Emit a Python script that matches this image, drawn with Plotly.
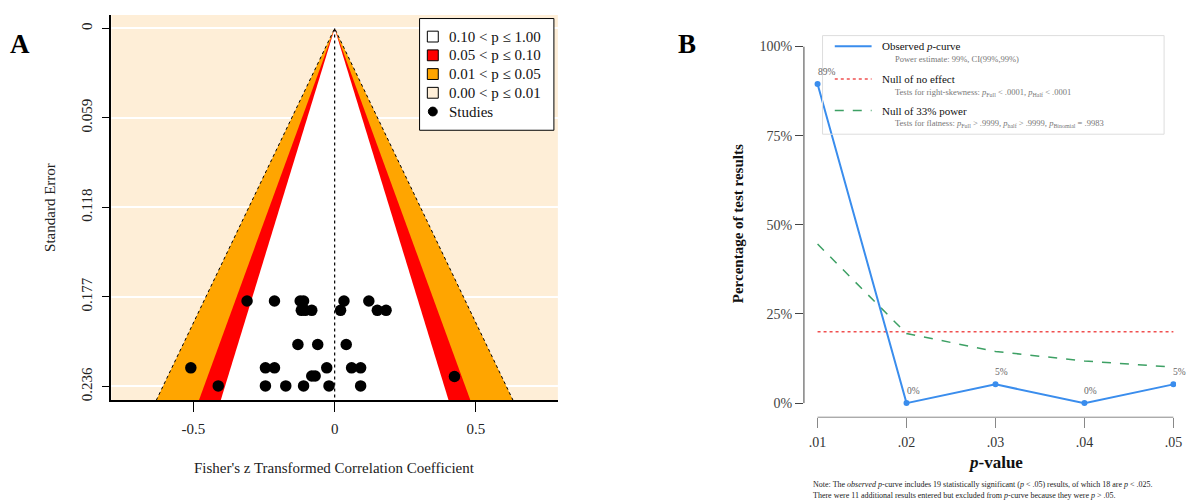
import plotly.graph_objects as go

W, H = 1191, 503
FONT = "Liberation Serif"

# ---------------- Panel A data ----------------
study_z = [-0.310, -0.213, -0.122, -0.110, 0.033, 0.121,
           -0.118, -0.104, -0.081, 0.021, 0.151, 0.182,
           -0.130, -0.060, 0.041,
           -0.509, -0.245, -0.213, -0.028, 0.060, 0.092,
           -0.081, -0.069, 0.424,
           -0.412, -0.245, -0.173, -0.110, -0.020, 0.092]
study_se = [0.1797, 0.1797, 0.1797, 0.1797, 0.1797, 0.1797,
            0.1858, 0.1858, 0.1858, 0.1858, 0.1858, 0.1858,
            0.2083, 0.2083, 0.2083,
            0.2237, 0.2237, 0.2237, 0.2237, 0.2237, 0.2237,
            0.2291, 0.2291, 0.2294,
            0.2356, 0.2356, 0.2356, 0.2356, 0.2356, 0.2356]
se_ticks = [0, 0.059, 0.118, 0.177, 0.236]
se_tick_labels = ["0", "0.059", "0.118", "0.177", "0.236"]
z_ticks = [-0.5, 0, 0.5]
z_tick_labels = ["-0.5", "0", "0.5"]
contour_crit = [2.576, 1.96, 1.645]          # p = .01, .05, .10
contour_colors = ["#FFA500", "#FF0000", "#FFFFFF"]
bg_beige = "#FEEED7"
se_max = 0.27
legendA_labels = ["0.10 < p \u2264 1.00", "0.05 < p \u2264 0.10",
                  "0.01 < p \u2264 0.05", "0.00 < p \u2264 0.01", "Studies"]
legendA_colors = ["#FFFFFF", "#FF0000", "#FFA500", bg_beige]

# ---------------- Panel B data ----------------
p_bins = [0.01, 0.02, 0.03, 0.04, 0.05]
p_tick_labels = [".01", ".02", ".03", ".04", ".05"]
observed = [89.47, 0, 5.26, 0, 5.26]
null_effect = [20, 20, 20, 20, 20]
null_33 = [44.6, 19.5, 14.5, 11.8, 10.1]
pct_ticks = [0, 25, 50, 75, 100]
pct_labels = ["0%", "25%", "50%", "75%", "100%"]

BLUE = "#3A8DED"
RED = "#F05050"
GREEN = "#3DA064"


def PX(x):
    return x / W


def PY(y):
    return 1 - y / H


fig = go.Figure()

# contour regions (A)
for c, col in zip(contour_crit, contour_colors):
    fig.add_trace(go.Scatter(
        x=[0, -c * se_max, c * se_max, 0], y=[0, se_max, se_max, 0],
        fill="toself", fillcolor=col, mode="lines", line=dict(width=0),
        hoverinfo="skip", showlegend=False, xaxis="x", yaxis="y"))
# dotted outer edge
c0 = contour_crit[0]
fig.add_trace(go.Scatter(
    x=[-c0 * se_max, 0, c0 * se_max], y=[se_max, 0, se_max], mode="lines",
    line=dict(color="black", width=1, dash="dot"), showlegend=False,
    hoverinfo="skip", xaxis="x", yaxis="y"))
# reference line at 0
fig.add_trace(go.Scatter(
    x=[0, 0], y=[0, se_max], mode="lines",
    line=dict(color="black", width=1.2, dash="dot"), showlegend=False,
    hoverinfo="skip", xaxis="x", yaxis="y"))
# studies
fig.add_trace(go.Scatter(
    x=study_z, y=study_se, mode="markers",
    marker=dict(color="black", size=11.5), showlegend=False,
    xaxis="x", yaxis="y"))

# ---------------- Panel B traces ----------------
fig.add_trace(go.Scatter(
    x=p_bins, y=null_effect, mode="lines",
    line=dict(color=RED, width=1.5, dash="dot"), showlegend=False,
    xaxis="x2", yaxis="y2"))
fig.add_trace(go.Scatter(
    x=p_bins, y=null_33, mode="lines",
    line=dict(color=GREEN, width=1.5, dash="dash"), showlegend=False,
    xaxis="x2", yaxis="y2"))
fig.add_trace(go.Scatter(
    x=p_bins, y=observed, mode="lines+markers",
    line=dict(color=BLUE, width=2), marker=dict(color=BLUE, size=6),
    showlegend=False, xaxis="x2", yaxis="y2"))

shapes = []
annotations = []

# beige background in A
shapes.append(dict(type="rect", xref="x domain", yref="y domain", x0=0, x1=1,
                   y0=0, y1=1, fillcolor=bg_beige, line=dict(width=0),
                   layer="below"))

# data labels B
for xv, yv in zip(p_bins, observed):
    annotations.append(dict(x=xv, y=yv, xref="x2", yref="y2",
                            text=f"{round(yv)}%", showarrow=False,
                            xanchor="left", yanchor="middle", xshift=-2, yshift=12,
                            font=dict(family=FONT, size=9.5, color="#666")))

# R-style axes for B
shapes.append(dict(type="line", xref="x2 domain", yref="y2", x0=0, x1=0,
                   y0=0, y1=100, line=dict(color="#444", width=1)))
shapes.append(dict(type="line", xref="x2", yref="y2 domain", x0=p_bins[0],
                   x1=p_bins[-1], y0=0, y1=0, line=dict(color="#888", width=1)))

# ---- legend A ----
lx0, lx1, ly0, ly1 = 421.7, 556.7, 11.7, 125
shapes.append(dict(type="rect", xref="paper", yref="paper",
                   x0=PX(lx0), x1=PX(lx1), y0=PY(ly1), y1=PY(ly0),
                   fillcolor="white", line=dict(color="black", width=1)))
rows = [30, 49, 68, 87, 106]
sx, half = 435, 5.5
for i, lab in enumerate(legendA_labels):
    yy = rows[i]
    if i < 4:
        shapes.append(dict(type="rect", xref="paper", yref="paper",
                           x0=PX(sx - half), x1=PX(sx + half),
                           y0=PY(yy + half), y1=PY(yy - half),
                           fillcolor=legendA_colors[i],
                           line=dict(color="black", width=1)))
    else:
        shapes.append(dict(type="circle", xref="paper", yref="paper",
                           x0=PX(sx - 4.5), x1=PX(sx + 4.5),
                           y0=PY(yy + 4.5), y1=PY(yy - 4.5),
                           fillcolor="black", line=dict(color="black", width=1)))
    annotations.append(dict(x=PX(449), y=PY(yy), xref="paper", yref="paper",
                            text=lab, showarrow=False, xanchor="left",
                            yanchor="middle",
                            font=dict(family=FONT, size=15, color="#111")))

# ---- legend B ----
shapes.append(dict(type="rect", xref="paper", yref="paper",
                   x0=PX(826.7), x1=PX(1170), y0=PY(129), y1=PY(29),
                   fillcolor="rgba(255,255,255,0)", line=dict(color="#DDD", width=1)))
legB = [
    (39.7, BLUE, "solid", "Observed <i>p</i>-curve",
     "Power estimate: 99%, CI(99%,99%)"),
    (73, RED, "dot", "Null of no effect",
     "Tests for right-skewness: <i>p</i><sub>Full</sub> < .0001, <i>p</i><sub>Half</sub> < .0001"),
    (105, GREEN, "dash", "Null of 33% power",
     "Tests for flatness: <i>p</i><sub>Full</sub> > .9999, <i>p</i><sub>half</sub> > .9999, <i>p</i><sub>Binomial</sub> = .9983"),
]
for yy, col, dash, main, sub in legB:
    shapes.append(dict(type="line", xref="paper", yref="paper",
                       x0=PX(839), x1=PX(876), y0=PY(yy), y1=PY(yy),
                       line=dict(color=col, width=2 if dash == "solid" else 1.5,
                                 dash=dash)))
    annotations.append(dict(x=PX(884), y=PY(yy), xref="paper", yref="paper",
                            text=main, showarrow=False, xanchor="left",
                            yanchor="middle",
                            font=dict(family=FONT, size=11, color="#111")))
    annotations.append(dict(x=PX(898), y=PY(yy + 13.5), xref="paper", yref="paper",
                            text=sub, showarrow=False, xanchor="left",
                            yanchor="middle",
                            font=dict(family=FONT, size=8.5, color="#777")))


def ann(x, y, text, size, color="#222", angle=0, xanchor="center"):
    return dict(x=PX(x), y=PY(y), xref="paper", yref="paper", text=text,
                showarrow=False, xanchor=xanchor, yanchor="middle",
                textangle=angle, font=dict(family=FONT, size=size, color=color))


annotations += [
    ann(20, 38, "<b>A</b>", 27, "black"),
    ann(690, 38, "<b>B</b>", 27, "black"),
    ann(336, 467, "Fisher's z Transformed Correlation Coefficient", 15),
    ann(50, 203, "Standard Error", 15, angle=-90),
    ann(742, 220, "<b>Percentage of test results</b>", 15, "#111", angle=-90),
    ann(1001, 462, "<b><i>p</i>-value</b>", 17, "#111"),
    ann(815, 484, "Note: The <i>observed p</i>-curve includes 19 statistically significant (<i>p</i> < .05) results, of which 18 are <i>p</i> < .025.",
        8, xanchor="left"),
    ann(815, 495.5, "There were 11 additional results entered but excluded from <i>p</i>-curve because they were <i>p</i> > .05.",
        8, xanchor="left"),
]

fig.update_layout(
    width=W, height=H, margin=dict(l=0, r=0, t=0, b=0),
    paper_bgcolor="white", plot_bgcolor="rgba(0,0,0,0)",
    font=dict(family=FONT),
    showlegend=False,
    shapes=shapes, annotations=annotations,
    xaxis=dict(domain=[PX(112), PX(560.7)], range=[-0.79, 0.79],
               tickvals=z_ticks, ticktext=z_tick_labels, ticks="outside",
               ticklen=10, tickcolor="black", showline=True, linecolor="black",
               linewidth=1.5, showgrid=False, zeroline=False,
               ticklabelstandoff=4,
               tickfont=dict(family=FONT, size=15, color="#222"), anchor="y"),
    yaxis=dict(domain=[PY(399), PY(8)], range=[0.2452, -0.0089],
               tickvals=se_ticks, ticktext=se_tick_labels, tickangle=-90,
               ticks="outside", ticklen=8, tickcolor="black", showline=True,
               linecolor="black", linewidth=1.5, showgrid=True,
               gridcolor="white", gridwidth=2, zeroline=False,
               ticklabelstandoff=4,
               tickfont=dict(family=FONT, size=15, color="#222"), anchor="x"),
    xaxis2=dict(domain=[PX(808), PX(1182)], range=[0.008468, 0.0503],
                tickvals=p_bins, ticktext=p_tick_labels, ticks="outside",
                ticklen=10, tickcolor="#888", showline=False, showgrid=False,
                zeroline=False, ticklabelstandoff=2,
                tickfont=dict(family=FONT, size=14, color="#333"),
                anchor="y2"),
    yaxis2=dict(domain=[PY(416), PY(40)], range=[-3.95, 100],
                tickvals=pct_ticks, ticktext=pct_labels, ticks="outside",
                ticklen=8, tickcolor="#444", showline=False, showgrid=False,
                zeroline=False, tickfont=dict(family=FONT, size=14, color="#444"),
                anchor="x2"),
)

fig.write_html("out.html")
